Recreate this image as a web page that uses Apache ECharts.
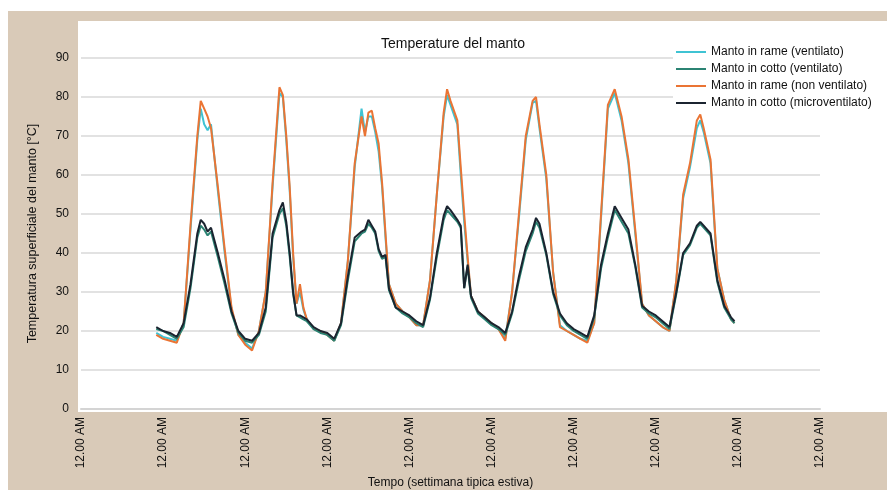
<!DOCTYPE html>
<html>
<head>
<meta charset="utf-8">
<script src="https://cdn.jsdelivr.net/npm/echarts@6/dist/echarts.min.js"></script>
<style>html,body{margin:0;padding:0;background:#fff}#c{width:887px;height:491px}</style>
</head>
<body>
<div id="c"></div>
<script>
// hours since the first midnight on the axis
const hours = [
  22,24,26,28,30,32,34,35,36,37,38,40,42,44,46,48,
  50,52,54,56,58,59,60,61,62,63,64,65,66,68,70,72,74,
  76,78,80,82,83,84,85,86,87,88,89,90,92,94,96,98,
  100,102,104,106,107,108,110,111,112,113,114,116,118,120,122,
  124,126,128,130,132,133,134,136,138,140,142,144,146,148,
  150,152,154,156,158,160,162,164,166,168,170,172,
  174,176,178,180,181,182,184,185,186,188,190,191
];
const rameVentilato = [
  19.5,18.5,18,17.5,22,46,69,77,73,71.5,73,56,40,25.5,19,17,
  15.5,20,30,57,81,80,69,56,39,27,30,25.5,23,20.5,20,19,17.5,
  22,38,62,77,71,75,75,71,66,57,44,32,27,25,23.5,21.5,
  21.5,33,55,75,80.5,78,73,60,48,38,29,25,23.5,22,20.5,
  18,30,49,69,78.5,79,72,59,35,21.5,20,19,18,17.5,
  22,49,77,81,74,63,45,27,24,22.5,21,20,
  33,54,62,72,74,71,63,49,36,28,23,22
];
const cottoVentilato = [
  20.5,20,19,18,21,31,44,47,46,44.5,45.5,39,32,24.5,19.5,17.5,
  17,19,25,44,50,51.5,47,39,29.5,24,23.5,23,22.5,20.5,19.5,19,17.5,
  21.5,33,43,45,45.5,47.5,46.5,45,40.5,38.5,39,30.5,26,24.5,23.5,22,
  21,28,39,48.5,51,50,48,46.5,31,36.5,28.5,24.5,23,21.5,20.5,
  19,24.5,33,40.5,45,48,46.5,39.5,29.5,24,21.5,20,19,18,
  23.5,36,44,51,48,45,36.5,26,24.5,23.5,22,20.5,
  29.5,39.5,42,46.5,47.5,46.5,44.5,38.5,32.5,26,23,22
];
const rameNonVentilato = [
  19,18,17.5,17,22,47,70,79,77,75,72,57,41,26,19,16.5,
  15,20,30,58,82.5,80.5,70,57,40,27,32,26,23,20.5,20,19,17.5,
  22,38,63,75,70,76,76.5,72,68,58,45,32,27,25,23.5,21.5,
  21.5,33,55,76,82,79,74,62,50,39,29,25,23.5,22,20.5,
  17.5,30,50,70,79,80,73,60,35,21,20,19,18,17,
  22,50,78,82,75,64,46,27,24,22.5,21,20,
  33,55,63,74,75.5,72,64,50,36,28,23,22
];
const cottoMicroventilato = [
  21,20,19.5,18.5,22,32,45,48.5,47.5,45.5,46.5,40,33,25,20,18,
  17.5,19.5,26,45,51,53,48,40,30,24,24,23.5,23,21,20,19.5,18,
  22,34,44,45.5,46,48.5,47,45.5,41,39,39.5,31,26,25,24,22.5,
  21.5,28.5,40,49.5,52,51,48.5,47,31,37,29,25,23.5,22,21,
  19.5,25,34,41.5,46,49,47.5,40,30,24.5,22,20.5,19.5,18.5,
  24,37,45,52,49,46,37,26.5,25,24,22.5,21,
  30,40,42.5,47,48,47,45,39,33,26.5,23.5,22.5
];
const seriesNames = ['Manto in rame (ventilato)','Manto in cotto (ventilato)','Manto in rame (non ventilato)','Manto in cotto (microventilato)'];
const seriesValues = [rameVentilato, cottoVentilato, rameNonVentilato, cottoMicroventilato];
const seriesColors = ['#3fc3d3','#2b8373','#ea7434','#1b2430'];
const seriesZ = [2,4,3,5];
const xTickLabel = '12.00 AM';
const chartTitle = 'Temperature del manto';
const yTitle = 'Temperatura superficiale del manto [°C]';
const xTitle = 'Tempo (settimana tipica estiva)';

const FONT = 'Liberation Sans';
const chart = echarts.init(document.getElementById('c'), null, {renderer:'canvas'});
chart.setOption({
  backgroundColor: '#ffffff',
  animation: false,
  graphic: [
    {type:'rect', z:-100, silent:true, shape:{x:8,y:11,width:879,height:479}, style:{fill:'#d9cab8'}},
    {type:'rect', z:-99, silent:true, shape:{x:78,y:21,width:809,height:391}, style:{fill:'#ffffff'}}
  ],
  title: {
    text: chartTitle, left: 448, textAlign: 'center', top: 32,
    textStyle: {fontFamily: FONT, fontSize: 14, fontWeight: 'normal', color: '#111'}
  },
  legend: {
    orient: 'vertical', left: 673, top: 44,
    itemWidth: 30, itemHeight: 14, itemGap: 5,
    icon: 'path://M0,0L30,0L30,2L0,2Z',
    padding: [2, 8, 4, 3],
    backgroundColor: '#ffffff',
    textStyle: {fontFamily: FONT, fontSize: 12, color: '#111'},
    data: seriesNames
  },
  grid: {left: 81, right: 67, top: 58, bottom: 82, containLabel: false, outerBoundsMode: 'none'},
  xAxis: {
    type: 'value', min: 0, max: 216, interval: 24,
    name: xTitle, nameLocation: 'middle', nameGap: 66,
    nameTextStyle: {fontFamily: FONT, fontSize: 12, color: '#111'},
    axisLine: {show: true, lineStyle: {color: '#d4d4d4', width: 2}},
    axisTick: {show: false},
    splitLine: {show: false},
    axisLabel: {formatter: () => xTickLabel, rotate: 90, margin: 8, fontFamily: FONT, fontSize: 12, color: '#111', showMinLabel: true, showMaxLabel: true}
  },
  yAxis: {
    type: 'value', min: 0, max: 90, interval: 10,
    name: yTitle, nameLocation: 'middle', nameGap: 42, nameRotate: 90,
    nameTextStyle: {fontFamily: FONT, fontSize: 12.5, color: '#111'},
    axisLine: {show: false}, axisTick: {show: false},
    splitLine: {lineStyle: {color: '#d8d8d8', width: 1.5}},
    axisLabel: {margin: 12, fontFamily: FONT, fontSize: 12, color: '#111'}
  },
  series: seriesNames.map((n, k) => ({
    name: n, type: 'line', symbol: 'none', z: seriesZ[k],
    color: seriesColors[k],
    lineStyle: {color: seriesColors[k], width: 2},
    data: hours.map((h, i) => [h, seriesValues[k][i]])
  }))
});
</script>
</body>
</html>
